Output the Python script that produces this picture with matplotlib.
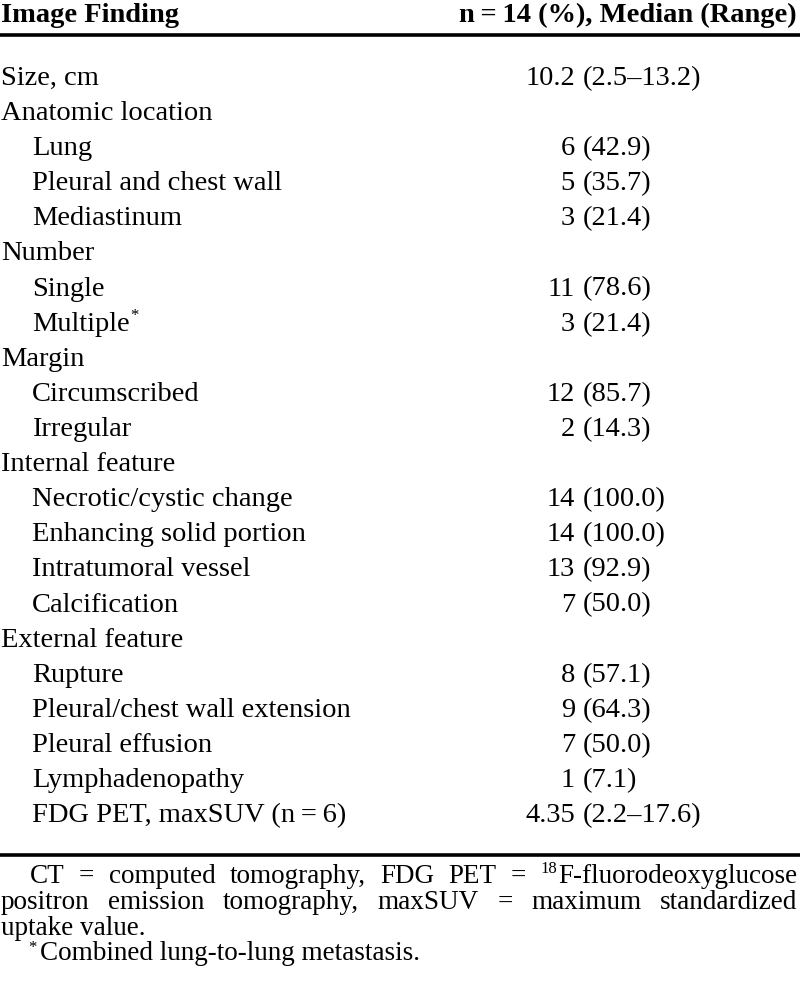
import matplotlib
matplotlib.use("Agg")
import matplotlib.pyplot as plt

# table content
row_labels = ["Size, cm", "Anatomic location", "Lung", "Pleural and chest wall", "Mediastinum",
              "Number", "Single", "Multiple", "Margin", "Circumscribed", "Irregular",
              "Internal feature", "Necrotic/cystic change", "Enhancing solid portion",
              "Intratumoral vessel", "Calcification", "External feature", "Rupture",
              "Pleural/chest wall extension", "Pleural effusion", "Lymphadenopathy",
              "FDG PET, maxSUV (n\u2009=\u20096)"]
indented = [0, 0, 1, 1, 1, 0, 1, 1, 0, 1, 1, 0, 1, 1, 1, 1, 0, 1, 1, 1, 1, 1]
starred = [False] * 22
starred[7] = True
counts = ["10.2", "", "6", "5", "3", "", "11", "3", "", "12", "2", "", "14", "14", "13", "7",
          "", "8", "9", "7", "1", "4.35"]
pcts = ["(2.5\u201313.2)", "", "(42.9)", "(35.7)", "(21.4)", "", "(78.6)", "(21.4)", "",
        "(85.7)", "(14.3)", "", "(100.0)", "(100.0)", "(92.9)", "(50.0)", "", "(57.1)",
        "(64.3)", "(50.0)", "(7.1)", "(2.2\u201317.6)"]

header_left = "Image Finding"
header_right = "n\u2009=\u200914 (%), Median (Range)"

# footnote words as (superscript, text)
foot_line1 = [("", "CT"), ("", "="), ("", "computed"), ("", "tomography,"), ("", "FDG"),
              ("", "PET"), ("", "="), ("18", "F-fluorodeoxyglucose")]
foot_line2 = ["positron", "emission", "tomography,", "maxSUV", "=", "maximum", "standardized"]
foot_last = "uptake value."
foot_star = "Combined lung-to-lung metastasis."

W, H = 800, 983
fig = plt.figure(figsize=(W / 100, H / 100), dpi=100)
ax = fig.add_axes([0, 0, 1, 1])
ax.set_xlim(0, W)
ax.set_ylim(H, 0)
ax.axis("off")

FONT = "Liberation Serif"
body = 20.5
foot = 19.5
sup = 12

ax.text(1, 22, header_left, fontsize=body, fontweight="bold", family=FONT, va="baseline", ha="left")
ax.text(797, 22, header_right, fontsize=body, fontweight="bold", family=FONT, va="baseline", ha="right")
ax.plot([0, W], [34.5, 34.5], color="black", lw=2.6, solid_capstyle="butt")

fig.canvas.draw()
renderer = fig.canvas.get_renderer()
inv = ax.transData.inverted()


def width_of(artist):
    bb = artist.get_window_extent(renderer)
    return inv.transform((bb.x1, 0))[0] - inv.transform((bb.x0, 0))[0]


y0, dy = 85, 35.1
for i, lab in enumerate(row_labels):
    y = y0 + i * dy
    x = 32 if indented[i] else 1
    t = ax.text(x, y, lab, fontsize=body, family=FONT, va="baseline", ha="left")
    if starred[i]:
        ax.text(x + width_of(t) + 1, y - 11, "*", fontsize=sup, family=FONT, va="baseline", ha="left")
    if counts[i]:
        ax.text(575, y, counts[i], fontsize=body, family=FONT, va="baseline", ha="right")
        ax.text(583, y, pcts[i], fontsize=body, family=FONT, va="baseline", ha="left")

ax.plot([0, W], [855, 855], color="black", lw=2.6, solid_capstyle="butt")


# justified footnote lines
def justify(words, x0, x1, y):
    items = []
    total = 0
    for s, w in words:
        sa = ax.text(0, y - 10, s, fontsize=sup, family=FONT, va="baseline", ha="left") if s else None
        wa = ax.text(0, y, w, fontsize=foot, family=FONT, va="baseline", ha="left")
        sw = width_of(sa) + 1 if sa else 0
        ww = width_of(wa)
        items.append((sa, wa, sw, ww))
        total += sw + ww
    gap = (x1 - x0 - total) / (len(words) - 1)
    x = x0
    for sa, wa, sw, ww in items:
        if sa:
            sa.set_x(x)
        wa.set_x(x + sw)
        x += sw + ww + gap


justify(foot_line1, 30, 797, 883)
justify([("", w) for w in foot_line2], 1, 797, 909)
ax.text(1, 935, foot_last, fontsize=foot, family=FONT, va="baseline", ha="left")
ax.text(28, 952, "*", fontsize=sup, family=FONT, va="baseline", ha="left")
ax.text(40, 960, foot_star, fontsize=foot, family=FONT, va="baseline", ha="left")

fig.savefig("out.png", dpi=100, facecolor="white")
